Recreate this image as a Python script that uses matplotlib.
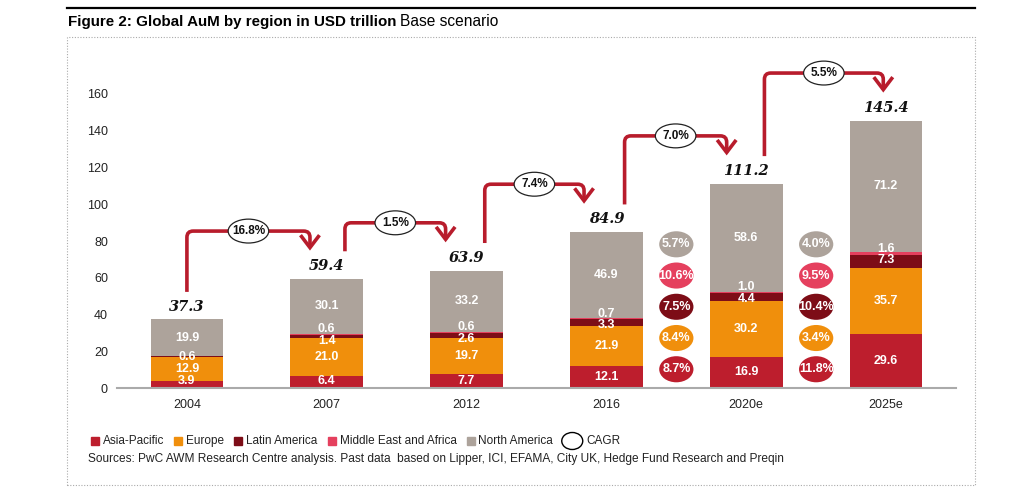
import numpy as np
import matplotlib
matplotlib.use('Agg')
import matplotlib.pyplot as plt
from matplotlib import font_manager
from matplotlib.patches import Ellipse, Rectangle
from matplotlib.path import Path
from matplotlib.patches import PathPatch
from matplotlib.lines import Line2D

plt.rcParams['font.family'] = ['Liberation Sans', 'DejaVu Sans']
names = {f.name for f in font_manager.fontManager.ttflist}
narrow = 'Liberation Sans Narrow' if 'Liberation Sans Narrow' in names else 'Liberation Sans'

# data
years = ['2004', '2007', '2012', '2016', '2020e', '2025e']
regions = ['Asia-Pacific', 'Europe', 'Latin America', 'Middle East and Africa', 'North America']
asia_pacific = [3.9, 6.4, 7.7, 12.1, 16.9, 29.6]
europe = [12.9, 21.0, 19.7, 21.9, 30.2, 35.7]
latin_america = [0.6, 1.4, 2.6, 3.3, 4.4, 7.3]
middle_east_africa = [0.0, 0.6, 0.6, 0.7, 1.0, 1.6]
north_america = [19.9, 30.1, 33.2, 46.9, 58.6, 71.2]
totals = [37.3, 59.4, 63.9, 84.9, 111.2, 145.4]
cagr_total = ['16.8%', '1.5%', '7.4%', '7.0%', '5.5%']
# regional CAGR, same order as regions
cagr_2016_2020 = ['8.7%', '8.4%', '7.5%', '10.6%', '5.7%']
cagr_2020_2025 = ['11.8%', '3.4%', '10.4%', '9.5%', '4.0%']

colors = ['#BD1E2D', '#F08F0C', '#7D0D17', '#E5405E', '#ADA39B']
arrow_red = '#B81C2C'

W, H = 1024, 498
fig = plt.figure(figsize=(W / 100, H / 100), dpi=100)
ax = fig.add_axes([117 / W, 1 - 388 / H, (956 - 117) / W, (388 - 57.25) / H])

x = np.arange(len(years))
series = [asia_pacific, europe, latin_america, middle_east_africa, north_america]
bottom = np.zeros(len(years))
for vals, c in zip(series, colors):
    ax.bar(x, vals, 0.52, bottom=bottom, color=c, zorder=2)
    bottom += np.array(vals)

lab = dict(color='white', fontweight='bold', fontsize=9, ha='center', va='center',
           family=narrow, zorder=4)
for i in range(len(years)):
    ap, eu, la, me, na = asia_pacific[i], europe[i], latin_america[i], middle_east_africa[i], north_america[i]
    ax.text(i, max(ap / 2, 3.6), '%.1f' % ap, **lab)
    ax.text(i, ap + eu / 2, '%.1f' % eu, **lab)
    la_top = ap + eu + la
    if me > 0:
        ax.text(i, la_top - 3.2, '%.1f' % la, **lab)
        ax.text(i, la_top + 3.2, '%.1f' % me, **lab)
    else:
        ax.text(i, la_top - 0.3, '%.1f' % la, **lab)
    ax.text(i, la_top + me + na / 2, '%.1f' % na, **lab)
    ax.text(i, totals[i] + 7, '%.1f' % totals[i], ha='center', va='center', fontsize=10.5,
            family='DejaVu Serif', fontweight='bold', style='italic', color='#111111')

# total CAGR bracket arrows
start_dx = [0, 0.13, 0.13, 0.13, 0.13]
end_dx = [-0.12, -0.15, -0.16, -0.14, -0.02]
rx, ry = 0.045, 3.4
for i in range(len(cagr_total)):
    x0 = i + start_dx[i]
    x1 = i + 1 + end_dx[i]
    y0 = totals[i] + 15
    yt = totals[i + 1] + 26
    ytip = totals[i + 1] + 17
    verts = [(x0, y0), (x0, yt - ry), (x0, yt), (x0 + rx, yt), (x1 - rx, yt), (x1, yt),
             (x1, yt - ry), (x1, ytip)]
    codes = [Path.MOVETO, Path.LINETO, Path.CURVE3, Path.CURVE3, Path.LINETO, Path.CURVE3,
             Path.CURVE3, Path.LINETO]
    ax.add_patch(PathPatch(Path(verts, codes), fill=False, ec=arrow_red, lw=2.6,
                           capstyle='butt', zorder=3, clip_on=False))
    ax.plot([x1 - 0.06, x1, x1 + 0.06], [ytip + 6, ytip, ytip + 6], color=arrow_red,
            lw=2.6, solid_joinstyle='miter', zorder=3, clip_on=False)
    xm = (x0 + x1) / 2
    ax.add_patch(Ellipse((xm, yt), 0.29, 13, fc='white', ec='#222222', lw=0.9, zorder=5,
                         clip_on=False))
    ax.text(xm, yt, cagr_total[i], ha='center', va='center', fontsize=8.5, fontweight='bold',
            family=narrow, color='#111111', zorder=6)

# regional CAGR bubbles
for xc, vals in [(3.5, cagr_2016_2020), (4.5, cagr_2020_2025)]:
    for k, (v, c) in enumerate(zip(vals, colors)):
        yc = 10.2 + 17 * k
        ax.add_patch(Ellipse((xc, yc), 0.245, 14.2, fc=c, ec='none', zorder=3))
        ax.text(xc, yc, v, ha='center', va='center', fontsize=9, fontweight='bold',
                family=narrow, color='white', zorder=4)

ax.set_xlim(-0.5, 5.5)
ax.set_ylim(0, 180)
ax.set_xticks(x)
ax.set_xticklabels(years, fontsize=9, color='#222222')
ax.set_yticks(np.arange(0, 161, 20))
ax.set_yticklabels([str(v) for v in range(0, 161, 20)], fontsize=9, color='#222222')
ax.tick_params(length=0)
ax.tick_params(axis='y', pad=6.5)
ax.tick_params(axis='x', pad=8)
for s in ['top', 'right', 'left']:
    ax.spines[s].set_visible(False)
ax.spines['bottom'].set_color('#AAAAAA')
ax.spines['bottom'].set_linewidth(1.5)

# frame and title
fig.add_artist(Line2D([67 / W, 975 / W], [1 - 8 / H, 1 - 8 / H], color='black', lw=1.6))
fig.add_artist(Rectangle((67 / W, 1 - 485 / H), (975 - 67) / W, (485 - 37) / H, fill=False,
                         ec='#AAAAAA', lw=0.8, ls=(0, (1, 1.5))))
renderer = fig.canvas.get_renderer()
t = fig.text(68 / W, 1 - 22 / H, 'Figure 2: Global AuM by region in USD trillion',
             fontsize=10.9, fontweight='bold', va='center', color='black')
bb = t.get_window_extent(renderer)
fig.text(bb.x1 / W + 4 / W, 1 - 22 / H, 'Base scenario', fontsize=11.2, va='center',
         color='black')

# legend
cur = 91
ly = 1 - 441 / H
for name, c in zip(regions, colors):
    fig.add_artist(Rectangle((cur / W, ly - 4 / H), 8 / W, 8 / H, color=c))
    tt = fig.text((cur + 12) / W, ly, name, fontsize=8.5, va='center', color='#222222')
    cur += 12 + tt.get_window_extent(renderer).width + 10
fig.add_artist(Ellipse(((cur + 9) / W, ly), 21 / W, 17 / H, fc='white', ec='black', lw=1))
fig.text((cur + 23) / W, ly, 'CAGR', fontsize=8.5, va='center', color='#222222')

fig.text(88 / W, 1 - 459 / H,
         'Sources: PwC AWM Research Centre analysis. Past data  based on Lipper, ICI, EFAMA, '
         'City UK, Hedge Fund Research and Preqin', fontsize=8.6, va='center', color='#222222')

fig.savefig('out.png', dpi=100)
